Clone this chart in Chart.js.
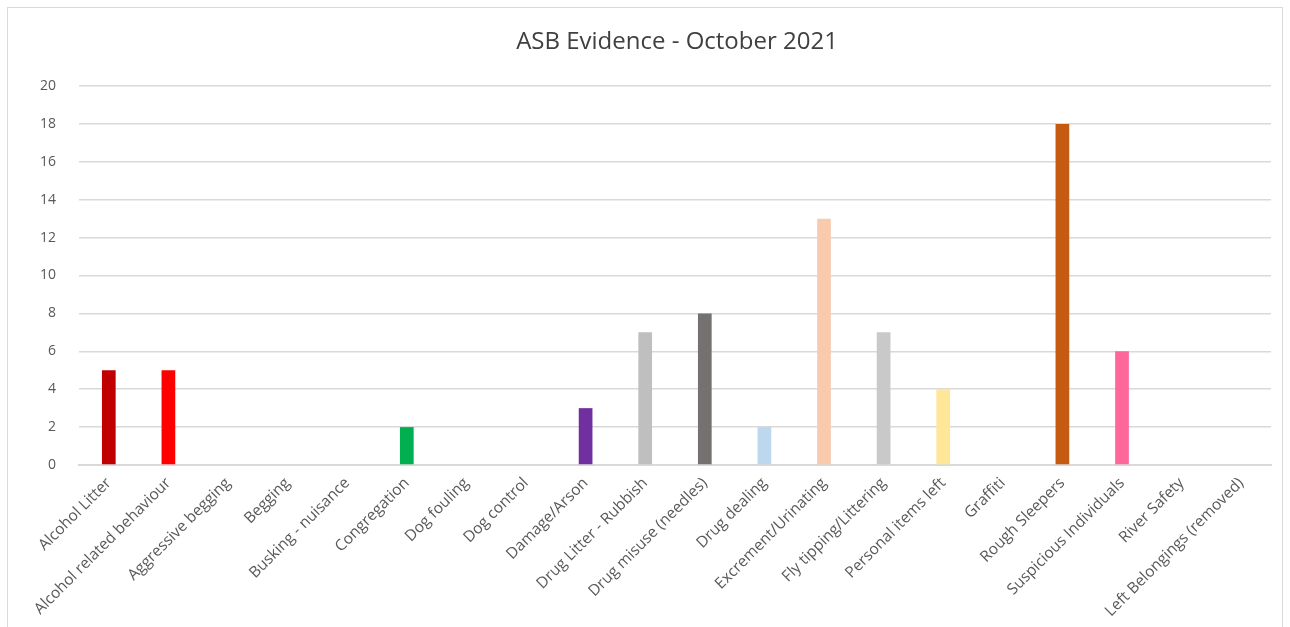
<!DOCTYPE html>
<html>
<head>
<meta charset="utf-8">
<script src="https://cdn.jsdelivr.net/npm/chart.js@4"></script>
<style>
  body { margin: 0; background: #fff; }
  #box {
    position: absolute; left: 7px; top: 7px;
    width: 1276px; height: 630px;
    border: 1px solid #d9d9d9; box-sizing: border-box;
  }
</style>
</head>
<body>
<div id="box"><canvas id="asbChart"></canvas></div>
<script>
// Kategori & nilai
const categories = [
    "Alcohol Litter", "Alcohol related behaviour", "Aggressive begging", "Begging",
    "Busking - nuisance", "Congregation", "Dog fouling", "Dog control", "Damage/Arson",
    "Drug Litter - Rubbish", "Drug misuse (needles)", "Drug dealing", "Excrement/Urinating",
    "Fly tipping/Littering", "Personal items left", "Graffiti", "Rough Sleepers",
    "Suspicious Individuals", "River Safety", "Left Belongings (removed)"
];
const counts = [5, 5, 0, 0, 0, 2, 0, 0, 3, 7, 8, 2, 13, 7, 4, 0, 18, 6, 0, 0];
const barColours = [
    "#C00000", "#FF0000", "#A5A5A5", "#A5A5A5", "#A5A5A5", "#00B050", "#A5A5A5", "#A5A5A5",
    "#7030A0", "#BFBFBF", "#767171", "#BDD7EE", "#F8CBAD", "#C9C9C9", "#FFE699", "#A5A5A5",
    "#C55A11", "#FF6699", "#A5A5A5", "#A5A5A5"
];
const yTicks = [0, 2, 4, 6, 8, 10, 12, 14, 16, 18, 20];
const judul = 'ASB Evidence - October 2021';

// Judul digambar di tengah area plot (seperti Excel)
const judulPlugin = {
    id: 'judulPlugin',
    afterDraw(chart) {
        const c = chart.ctx;
        const area = chart.chartArea;
        c.save();
        c.font = '24px "Open Sans"';
        c.fillStyle = '#404040';
        c.textAlign = 'center';
        c.textBaseline = 'middle';
        c.fillText(judul, (area.left + area.right) / 2 + 2, 34);
        c.restore();
    }
};

const ctx = document.getElementById('asbChart').getContext('2d');

new Chart(ctx, {
    type: 'bar',
    data: {
        labels: categories,
        datasets: [{
            data: counts,
            backgroundColor: barColours,
            borderWidth: 0,
            barPercentage: 0.23,
            categoryPercentage: 1.0
        }]
    },
    options: {
        responsive: true,
        maintainAspectRatio: false,
        animation: false,
        layout: { padding: { left: 0, right: 11, top: 78, bottom: 0 } },
        plugins: {
            legend: { display: false },
            tooltip: { enabled: false },
            title: { display: false }
        },
        scales: {
            x: {
                grid: { display: false, drawTicks: false },
                border: { color: '#d9d9d9', width: 2 },
                ticks: {
                    color: '#595959',
                    font: { family: 'Open Sans', size: 15.5 },
                    minRotation: 45, maxRotation: 45,
                    autoSkip: false, padding: 9
                },
                afterFit: (scale) => { scale.height = 171; }
            },
            y: {
                min: 0, max: 20,
                afterBuildTicks: (scale) => { scale.ticks = yTicks.map(v => ({ value: v })); },
                grid: { color: '#d9d9d9', lineWidth: 1.5, drawTicks: false },
                border: { display: false },
                ticks: {
                    color: '#595959',
                    font: { family: 'Open Sans', size: 14 },
                    padding: 23
                },
                afterFit: (scale) => { scale.width = 71; }
            }
        }
    },
    plugins: [judulPlugin]
});
</script>
</body>
</html>
